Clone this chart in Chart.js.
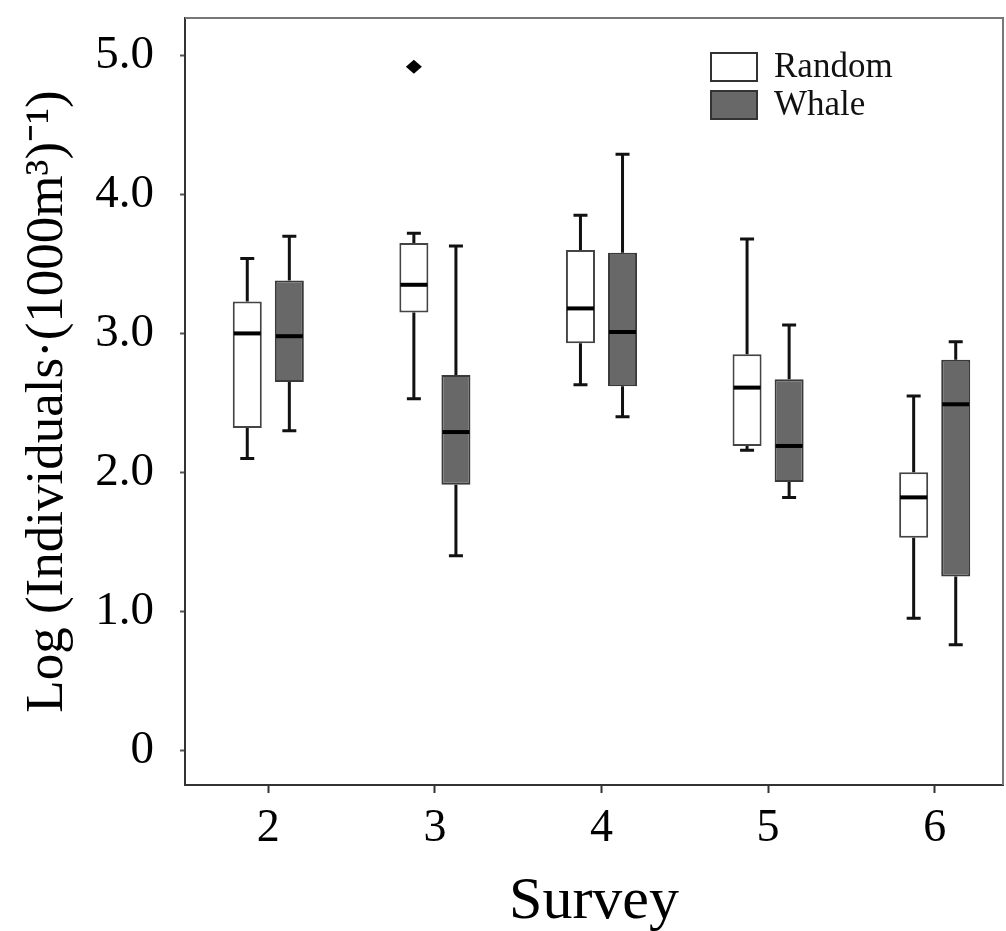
<!DOCTYPE html>
<html lang="en">
<head>
    <meta charset="UTF-8">
    <script src="https://cdn.jsdelivr.net/npm/chart.js"></script>
    <title>Survey box plot</title>
    <style>
        body { margin: 0; background: #fff; }
        #wrap { width: 1006px; height: 931px; }
    </style>
</head>
<body>
<div id="wrap"><canvas id="myChart"></canvas></div>
<script>
const surveys = ['2', '3', '4', '5', '6'];
const yTicks = [0, 1, 2, 3, 4, 5];

// Random samples
const randomMin = [2.10, 2.53, 2.63, 2.16, 0.95];
const randomQ1  = [2.32, 3.15, 2.93, 2.19, 1.53];
const randomMed = [3.00, 3.35, 3.18, 2.61, 1.82];
const randomQ3  = [3.23, 3.65, 3.60, 2.85, 2.00];
const randomMax = [3.54, 3.72, 3.85, 3.68, 2.55];
const randomOutliers = [[], [4.92], [], [], []];

// Whale samples
const whaleMin = [2.30, 1.40, 2.40, 1.82, 0.76];
const whaleQ1  = [2.65, 1.91, 2.62, 1.93, 1.25];
const whaleMed = [2.98, 2.29, 3.01, 2.19, 2.49];
const whaleQ3  = [3.38, 2.70, 3.58, 2.67, 2.81];
const whaleMax = [3.70, 3.63, 4.29, 3.06, 2.94];
const whaleOutliers = [[], [], [], [], []];

const font = 'Liberation Serif';

function boxData(q1, q3) {
    return surveys.map((s, i) => ({ x: Number(s), y: [q1[i], q3[i]] }));
}

const stats = [
    { min: randomMin, med: randomMed, max: randomMax, q1: randomQ1, q3: randomQ3, out: randomOutliers },
    { min: whaleMin, med: whaleMed, max: whaleMax, q1: whaleQ1, q3: whaleQ3, out: whaleOutliers }
];

// whiskers, medians and outliers, placed from the bar elements and y scale
const boxParts = {
    id: 'boxParts',
    afterDatasetsDraw(chart) {
        const ctx = chart.ctx;
        const y = chart.scales.y;
        stats.forEach((st, di) => {
            const meta = chart.getDatasetMeta(di);
            meta.data.forEach((el, i) => {
                const p = el.getProps(['x', 'width'], true);
                const cap = 7;
                ctx.save();
                ctx.strokeStyle = '#111';
                ctx.lineWidth = 3;
                ctx.beginPath();
                ctx.moveTo(p.x, y.getPixelForValue(st.q3[i]));
                ctx.lineTo(p.x, y.getPixelForValue(st.max[i]));
                ctx.moveTo(p.x - cap, y.getPixelForValue(st.max[i]));
                ctx.lineTo(p.x + cap, y.getPixelForValue(st.max[i]));
                ctx.moveTo(p.x, y.getPixelForValue(st.q1[i]));
                ctx.lineTo(p.x, y.getPixelForValue(st.min[i]));
                ctx.moveTo(p.x - cap, y.getPixelForValue(st.min[i]));
                ctx.lineTo(p.x + cap, y.getPixelForValue(st.min[i]));
                ctx.stroke();
                ctx.lineWidth = 4;
                ctx.strokeStyle = '#000';
                ctx.beginPath();
                ctx.moveTo(p.x - p.width / 2 + 1, y.getPixelForValue(st.med[i]));
                ctx.lineTo(p.x + p.width / 2 - 1, y.getPixelForValue(st.med[i]));
                ctx.stroke();
                ctx.fillStyle = '#000';
                st.out[i].forEach(v => {
                    const py = y.getPixelForValue(v);
                    ctx.beginPath();
                    ctx.moveTo(p.x, py - 7);
                    ctx.lineTo(p.x + 8, py);
                    ctx.lineTo(p.x, py + 7);
                    ctx.lineTo(p.x - 8, py);
                    ctx.closePath();
                    ctx.fill();
                });
                ctx.restore();
            });
        });
    }
};

// top/right frame and the legend in the upper right of the plot
const frameLegend = {
    id: 'frameLegend',
    afterDraw(chart) {
        const ctx = chart.ctx;
        const a = chart.chartArea;
        ctx.save();
        ctx.strokeStyle = '#777';
        ctx.lineWidth = 2;
        ctx.beginPath();
        ctx.moveTo(a.left, a.top);
        ctx.lineTo(a.right, a.top);
        ctx.lineTo(a.right, a.bottom);
        ctx.stroke();

        ctx.font = '35px "' + font + '"';
        ctx.textBaseline = 'middle';
        chart.data.datasets.forEach((ds, i) => {
            const bx = a.right - 292, by = a.top + 35 + i * 38;
            ctx.fillStyle = ds.backgroundColor;
            ctx.fillRect(bx, by, 46, 28);
            ctx.strokeStyle = '#333';
            ctx.lineWidth = 2;
            ctx.strokeRect(bx, by, 46, 28);
            ctx.fillStyle = '#111';
            ctx.fillText(ds.label, bx + 63, by + 15);
        });
        ctx.restore();
    }
};

new Chart(document.getElementById('myChart'), {
    type: 'bar',
    data: {
        datasets: [{
            label: 'Random',
            data: boxData(randomQ1, randomQ3),
            backgroundColor: '#ffffff',
            borderColor: '#444',
            borderWidth: 2,
            borderSkipped: false
        }, {
            label: 'Whale',
            data: boxData(whaleQ1, whaleQ3),
            backgroundColor: '#686868',
            borderColor: '#3a3a3a',
            borderWidth: 2,
            borderSkipped: false
        }]
    },
    options: {
        responsive: true,
        maintainAspectRatio: false,
        animation: false,
        categoryPercentage: 0.505,
        barPercentage: 0.69,
        layout: { padding: { top: 18, right: 3 } },
        plugins: {
            legend: { display: false },
            tooltip: { enabled: false }
        },
        scales: {
            x: {
                type: 'linear',
                offset: false,
                min: 1.5,
                max: 6.41,
                afterBuildTicks: axis => { axis.ticks = surveys.map(s => ({ value: Number(s) })); },
                afterFit: axis => { axis.height = 146; axis.paddingLeft = 0; axis.paddingRight = 0; },
                grid: { display: true, offset: false, drawOnChartArea: false, tickLength: 8, tickWidth: 2, tickColor: '#333' },
                border: { display: true, color: '#333', width: 2 },
                ticks: {
                    color: '#000',
                    padding: 8,
                    maxRotation: 0,
                    font: { family: font, size: 46 },
                    callback: v => String(v)
                },
                title: {
                    display: true,
                    text: 'Survey',
                    color: '#000',
                    font: { family: font, size: 60, lineHeight: 0.95 },
                    padding: { top: 4, bottom: 0 }
                }
            },
            y: {
                min: -0.25,
                max: 5.27,
                afterBuildTicks: axis => { axis.ticks = yTicks.map(v => ({ value: v })); },
                afterFit: axis => { axis.width = 185; axis.paddingTop = 0; axis.paddingBottom = 0; },
                grid: { display: true, drawOnChartArea: false, tickLength: 5, tickWidth: 2, tickColor: '#555' },
                border: { display: true, color: '#333', width: 2 },
                ticks: {
                    color: '#000',
                    padding: 26,
                    font: { family: font, size: 47 },
                    callback: v => v === 0 ? '0' : v.toFixed(1)
                },
                title: {
                    display: true,
                    text: 'Log (Individuals·(1000m³)⁻¹)',
                    color: '#000',
                    font: { family: font, size: 53 },
                    padding: { top: 16, bottom: 0 }
                }
            }
        }
    },
    plugins: [boxParts, frameLegend]
});
</script>
</body>
</html>
